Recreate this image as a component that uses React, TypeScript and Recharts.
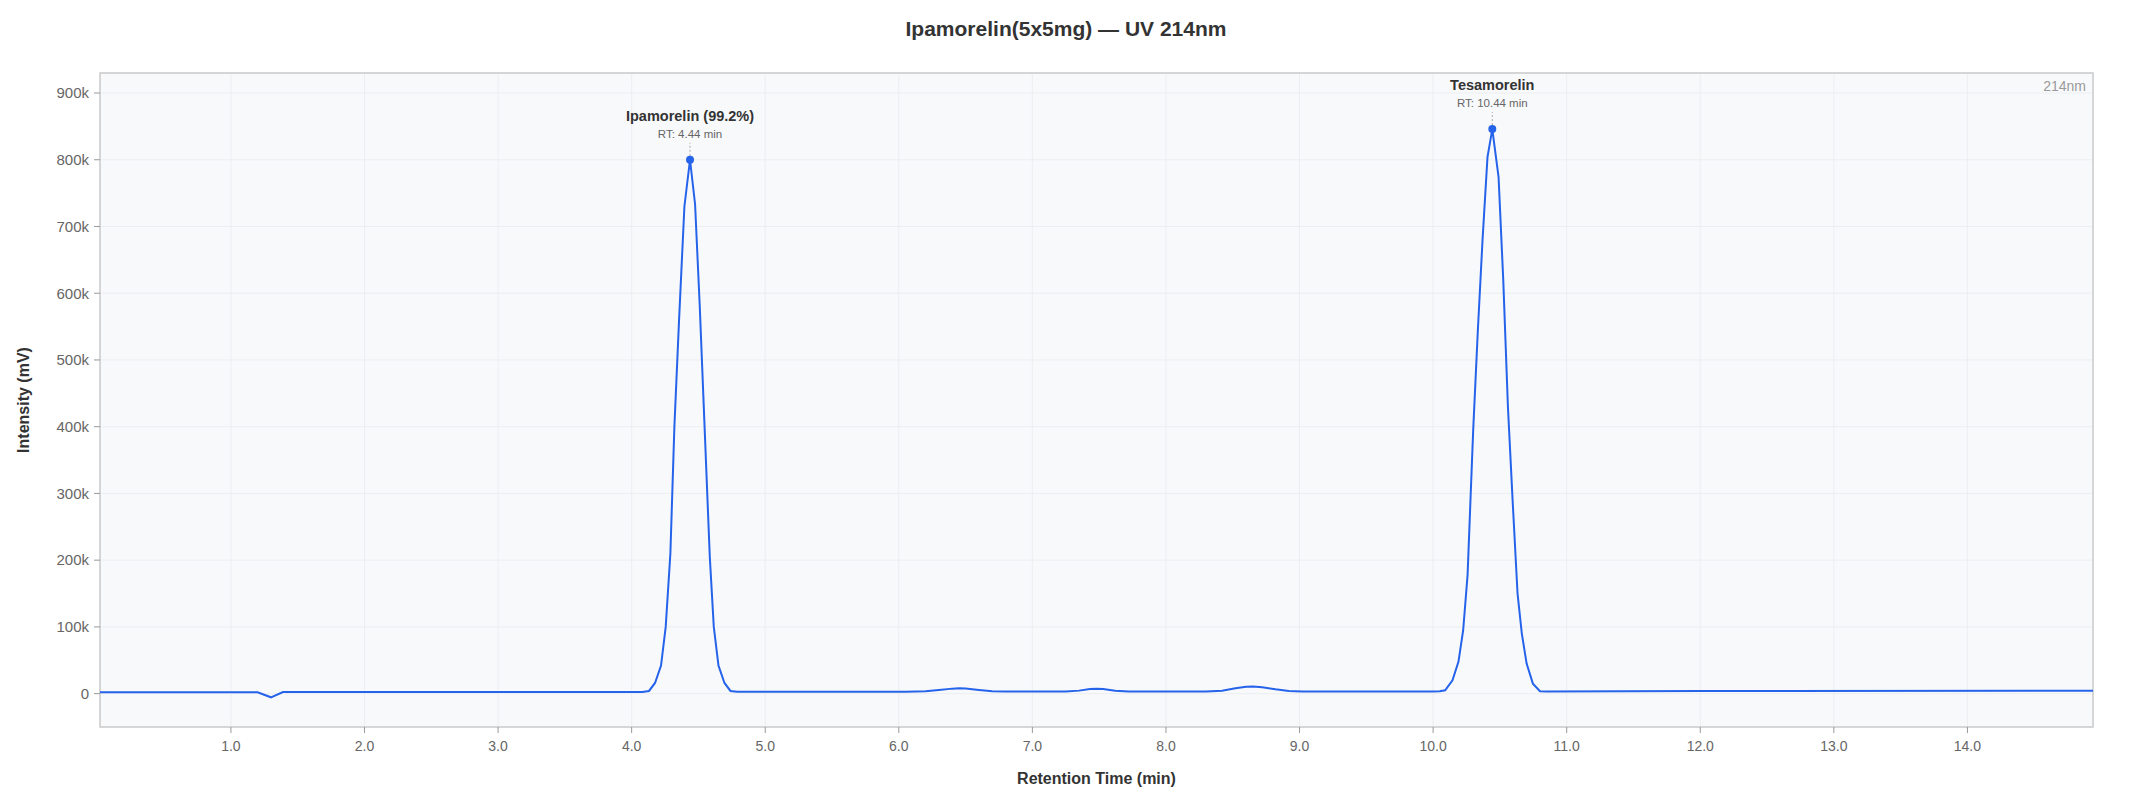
import React from "react"
import { CartesianGrid, Line, LineChart, ReferenceArea, ReferenceDot, XAxis, YAxis } from "recharts"

// retention time (min) and detector signal (mV)
const times = [
  0.02, 1.2, 1.3, 1.39, 4.0, 4.08,
  4.13, 4.175, 4.22, 4.255, 4.29, 4.32, 4.355, 4.395, 4.437, 4.475, 4.51, 4.548, 4.585, 4.615, 4.65, 4.695, 4.74, 4.79,
  6.05, 6.2, 6.3, 6.4, 6.45, 6.5, 6.6, 6.7, 6.8,
  7.25, 7.35, 7.43, 7.48, 7.53, 7.62, 7.72,
  8.3, 8.42, 8.52, 8.6, 8.65, 8.72, 8.82, 8.92, 9.02,
  10.0, 10.05, 10.09, 10.145, 10.19, 10.225, 10.258, 10.3, 10.335, 10.37, 10.407, 10.443, 10.49, 10.525, 10.56, 10.595,
  10.632, 10.664, 10.7, 10.747, 10.8, 10.85,
  12.0, 14.94,
]
const intensity = [
  2000, 2000, -5500, 2300, 2500, 2600,
  4000, 16000, 42000, 100000, 210000, 400000, 560000, 730000, 800000, 733000, 580000, 390000, 205000, 100000, 42000, 16000, 4000, 2700,
  3000, 3600, 5500, 7500, 8000, 7600, 5500, 3700, 3100,
  3100, 4500, 7000, 7500, 7000, 4500, 3200,
  3200, 4500, 8000, 10200, 10500, 9500, 6500, 4000, 3300,
  3300, 3500, 5000, 20000, 48000, 95000, 178000, 395000, 545000, 680000, 804000, 846000, 774000, 620000, 430000, 290000,
  150000, 90000, 45000, 15000, 3500, 3300,
  3800, 4500,
]

const xTicks = [1, 2, 3, 4, 5, 6, 7, 8, 9, 10, 11, 12, 13, 14]
const yTicks = [0, 100000, 200000, 300000, 400000, 500000, 600000, 700000, 800000, 900000]

const peakNames = ["Ipamorelin (99.2%)", "Tesamorelin"]
const peakRT = ["RT: 4.44 min", "RT: 10.44 min"]
const peakTimes = [4.437, 10.443]
const peakHeights = [800000, 846000]

const data = times.map((t, i) => ({ t, v: intensity[i] }))

const BLUE = "#2563eb"

function peakShape(name: string, rt: string) {
  return (props: any) => {
    const { cx, cy } = props
    return (
      <g>
        <line x1={cx} y1={cy - 4} x2={cx} y2={cy - 17} stroke="#aaa" strokeDasharray="2 2" />
        <circle cx={cx} cy={cy} r={4} fill={BLUE} />
        <text x={cx} y={cy - 25} textAnchor="middle" dominantBaseline="middle" fontSize={11.5} fill="#666">
          {rt}
        </text>
        <text x={cx} y={cy - 43} textAnchor="middle" dominantBaseline="middle" fontSize={14.5} fontWeight="bold" fill="#333">
          {name}
        </text>
      </g>
    )
  }
}

export default function App() {
  return (
    <div style={{ position: "relative", width: 2117, height: 784, fontFamily: "'Liberation Sans', Arial, sans-serif" }}>
      <LineChart width={2117} height={784} data={data} margin={{ top: 65, right: 32, bottom: 35, left: 32 }}>
        <CartesianGrid stroke="#eceef1" fill="#f8f9fb" fillOpacity={1} />
        <XAxis
          dataKey="t"
          type="number"
          domain={["dataMin", "dataMax"]}
          ticks={xTicks}
          tickFormatter={(v) => v.toFixed(1)}
          height={30}
          tick={{ fontSize: 14, fill: "#666" }}
          tickLine={{ stroke: "#999" }}
          axisLine={false}
          tickMargin={8}
        />
        <YAxis
          type="number"
          domain={[-50000, 930000]}
          ticks={yTicks}
          tickFormatter={(v) => (v === 0 ? "0" : `${v / 1000}k`)}
          width={60}
          tick={{ fontSize: 15, fill: "#666" }}
          tickLine={{ stroke: "#999" }}
          axisLine={false}
          tickMargin={5}
          allowDataOverflow
        />
        <ReferenceArea
          x1={times[0]}
          x2={times[times.length - 1]}
          y1={-50000}
          y2={930000}
          fill="none"
          stroke="#cccccc"
          strokeWidth={1.5}
          ifOverflow="visible"
        />
        <Line
          type="linear"
          dataKey="v"
          stroke={BLUE}
          strokeWidth={2}
          dot={false}
          isAnimationActive={false}
        />
        {peakNames.map((name, i) => (
          <ReferenceDot
            key={name}
            x={peakTimes[i]}
            y={peakHeights[i]}
            r={4}
            ifOverflow="visible"
            shape={peakShape(name, peakRT[i])}
          />
        ))}
      </LineChart>
      <svg width={2117} height={784} style={{ position: "absolute", left: 0, top: 0, pointerEvents: "none" }}>
        <text x={1058} y={28} textAnchor="middle" fontSize={21} fontWeight="bold" fill="#333">
          Ipamorelin(5x5mg) — UV 214nm
        </text>
        <text x={2078} y={79} textAnchor="end" dominantBaseline="middle" fontSize={14} fill="#999">
          214nm
        </text>
        <text
          x={17}
          y={392}
          transform="rotate(-90 17 392)"
          textAnchor="middle"
          dominantBaseline="middle"
          fontSize={16}
          fontWeight="bold"
          fill="#333"
        >
          Intensity (mV)
        </text>
        <text x={1088.5} y={772} textAnchor="middle" dominantBaseline="middle" fontSize={16} fontWeight="bold" fill="#333">
          Retention Time (min)
        </text>
      </svg>
    </div>
  )
}
